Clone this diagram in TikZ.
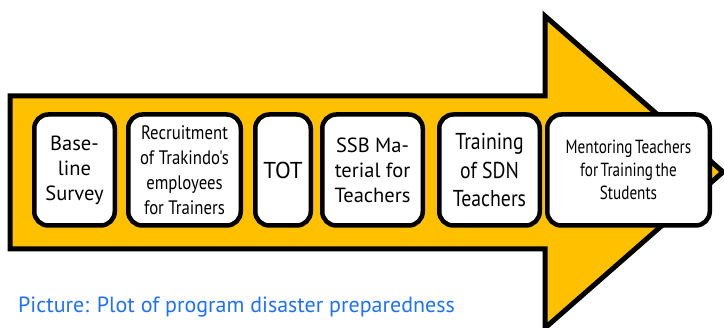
\documentclass[tikz,border=0pt]{standalone}
\usepackage{fontspec}
\setmainfont{PT Sans}
\newfontfamily\narrowfont[FakeStretch=0.86]{PT Sans}
\newfontfamily\squeezefont[FakeStretch=0.8,WordSpace=0.6]{PT Sans}
\usepackage{tikz}
\usetikzlibrary{positioning}
\definecolor{arrowgold}{RGB}{255,192,0}
\definecolor{captionblue}{RGB}{30,112,255}

\begin{document}
\begin{tikzpicture}[x=1pt,y=-1pt,line join=miter,
	step node/.style={draw,fill=white,line width=4.5pt,rounded corners=14pt,
		minimum height=111pt,inner sep=1pt,align=center,font=\fontsize{20.5}{25}\selectfont}]
	\useasboundingbox (0,0) rectangle (724,328);
	% big arrow behind the steps
	\draw[line width=5pt,fill=arrowgold] (10,96) -- (545,96) -- (545,16) -- (723,172)
		-- (545,328) -- (545,249) -- (10,249) -- cycle;
	\node[step node,minimum width=80.5pt] (base) at (74.5,170) {Base-\\line\\Survey};
	\node[step node,minimum width=112.5pt,font=\narrowfont\fontsize{19.5}{25}\selectfont] (recruit) [right=9pt of base]
		{Recruitment\\of Trakindo's\\employees\\for Trainers};
	\node[step node,minimum width=55.5pt,font=\fontsize{23}{28}\selectfont] (tot) [right=10pt of recruit] {TOT};
	\node[step node,minimum width=100.5pt] (ssb) [right=7pt of tot] {SSB Ma-\\terial for\\Teachers};
	\node[step node,minimum width=100.5pt,font=\narrowfont\fontsize{23}{28.5}\selectfont] (sdn) [right=12pt of ssb]
		{Training\\of SDN\\Teachers};
	\node[step node,minimum width=162.5pt,font=\squeezefont\fontsize{19}{23}\selectfont] (mentor) [right=3pt of sdn]
		{Mentoring Teachers\\for Training the\\Students};
	\node[anchor=base west,inner sep=0pt,text=captionblue,font=\fontsize{22}{26}\selectfont] (caption) at (18,313)
		{Picture: Plot of program disaster preparedness};
\end{tikzpicture}
\end{document}
